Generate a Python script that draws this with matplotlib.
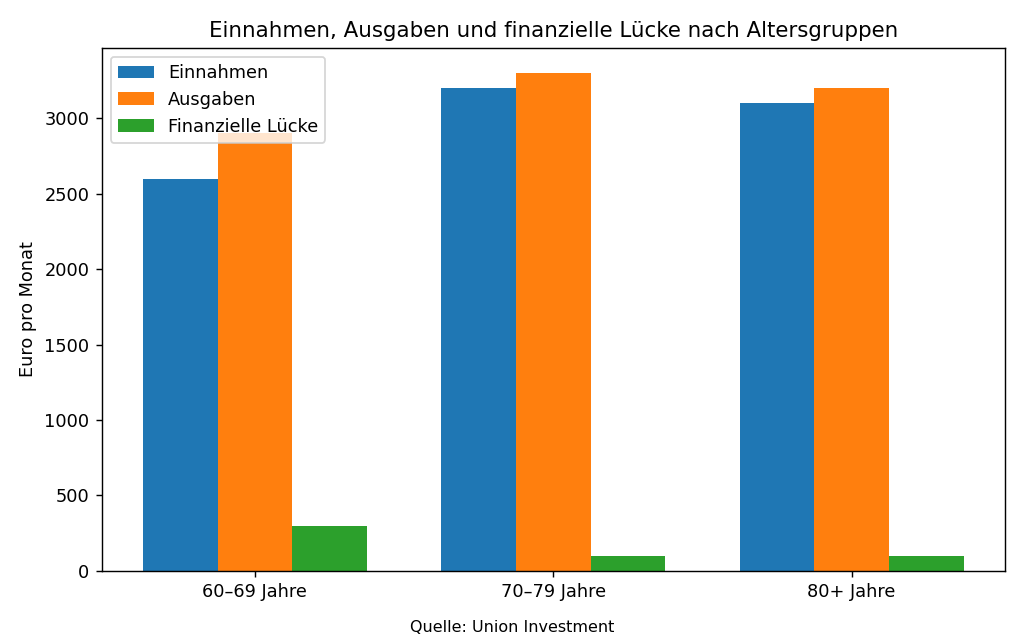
import matplotlib.pyplot as plt
import numpy as np

# Daten
gruppen = ['60–69 Jahre', '70–79 Jahre', '80+ Jahre']
einnahmen = [2600, 3200, 3100]
ausgaben = [2900, 3300, 3200]
luecke = [300, 100, 100]

x = np.arange(len(gruppen))
w = 0.25

fig, ax = plt.subplots(figsize=(8, 5), dpi=128)
ax.bar(x - w, einnahmen, w, label='Einnahmen', color='#1f77b4')
ax.bar(x, ausgaben, w, label='Ausgaben', color='#ff7f0e')
ax.bar(x + w, luecke, w, label='Finanzielle Lücke', color='#2ca02c')

ax.set_xticks(x)
ax.set_xticklabels(gruppen)
ax.set_ylabel('Euro pro Monat')
ax.set_title('Einnahmen, Ausgaben und finanzielle Lücke nach Altersgruppen')
ax.legend(loc='upper left')

fig.text(0.5, 0.012, 'Quelle: Union Investment', ha='center', fontsize=9)
plt.subplots_adjust(left=0.0996, right=0.981, top=0.925, bottom=0.108)

plt.savefig('out.png')
